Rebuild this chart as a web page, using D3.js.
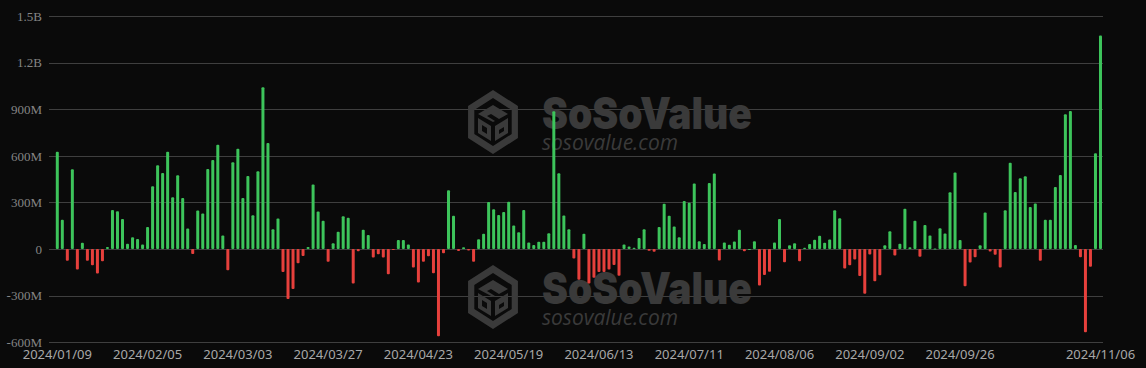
<!DOCTYPE html>
<html>
<head>
<meta charset="utf-8">
<script src="https://cdn.jsdelivr.net/npm/d3@7"></script>
<style>
  html, body { margin: 0; padding: 0; background: #0a0a0a; }
  svg { display: block; }
</style>
</head>
<body>
<svg id="flowChart" width="1146" height="368"></svg>
<script>
(() => {

    // daily net flow, in millions of USD (one entry per trading day)
    const netFlow = [
        626, 188, -75, 514, -132, 41, -75, -104, -158, -78,
        13, 252, 244, 194, 35, 76, 65, 30, 142, 404,
        540, 490, 626, 334, 475, 328, 132, -32, 248, 229,
        516, 574, 671, 88, -136, 559, 645, 328, 470, 218,
        501, 1042, 682, 127, 196, -148, -322, -257, -92, -45,
        13, 415, 241, 182, -82, 37, 111, 211, 201, -221,
        -14, 124, 90, -54, -33, -54, -162, -2, 59, 59,
        30, -118, -215, -81, -46, -156, -561, -27, 378, 215,
        -12, 12, -9, -81, 64, 98, 303, 256, 220, 238,
        305, 152, 108, 251, 42, 26, 47, 47, 102, 887,
        488, 216, 128, -60, -197, 99, -221, -185, -148, -148,
        -131, -103, -171, 29, 17, 9, 71, 127, -11, -17,
        142, 291, 214, 145, 76, 309, 298, 422, 51, 33,
        426, 487, -74, 43, 28, 49, 124, -14, 0, 50,
        -234, -167, -146, 43, 193, -85, 24, 38, -78, 9,
        32, 60, 86, 40, 62, 250, 198, -125, -104, -67,
        -173, -287, -35, -207, -168, 24, 114, -41, 35, 259,
        11, 183, -50, 155, 88, 3, 134, 101, 365, 492,
        58, -240, -86, -52, 24, 235, -15, -37, -119, 250,
        555, 367, 455, 468, 270, 293, -75, 188, 188, 399,
        477, 868, 889, 26, -52, -535, -114, 617, 1375
    ];
    const dayIndex = netFlow.map((_, i) => i);

    const xTickIndex = [0, 18, 36, 54, 72, 90, 108, 126, 144, 162, 180, 208];
    const xTickLabels = ["2024/01/09", "2024/02/05", "2024/03/03", "2024/03/27",
        "2024/04/23", "2024/05/19", "2024/06/13", "2024/07/11", "2024/08/06",
        "2024/09/02", "2024/09/26", "2024/11/06"];

    const yTickValues = [-600, -300, 0, 300, 600, 900, 1200, 1500];
    const yTickLabels = ["-600M", "-300M", "0", "300M", "600M", "900M", "1.2B", "1.5B"];

    const svg = d3.select("svg#flowChart");

    const gridLeft = 49;
    const plotRight = 1103;

    const x = d3.scaleBand()
        .domain(dayIndex)
        .range([54.8, plotRight]);

    const y = d3.scaleLinear()
        .domain([-600, 1500])
        .range([342.3, 16]);

    // grid lines
    svg.append("g")
        .selectAll("line")
        .data(yTickValues)
        .enter().append("line")
        .attr("x1", gridLeft)
        .attr("x2", plotRight)
        .attr("y1", d => Math.round(y(d)) + 0.5)
        .attr("y2", d => Math.round(y(d)) + 0.5)
        .style("stroke", "#3f3f3f")
        .style("stroke-width", 1);

    // y labels
    const yAxis = svg.append("g")
        .attr("transform", "translate(42,0)")
        .call(d3.axisLeft(y)
            .tickValues(yTickValues)
            .tickSize(0)
            .tickPadding(0)
            .tickFormat((d, i) => yTickLabels[i]));
    yAxis.select(".domain").remove();
    yAxis.selectAll("text")
        .style("font-family", "'Liberation Serif', serif")
        .style("font-size", "13px")
        .style("fill", "#858585");

    // watermark
    const marks = svg.append("g").style("fill", "#3a3a3a");
    [0, 175].forEach(dy => {
        const wm = marks.append("g").attr("transform", `translate(0,${dy})`);
        const cx = 493, cy = 122;
        const hex = r => d3.range(6).map(k => {
            const a = Math.PI / 3 * k - Math.PI / 2;
            return [cx + r * Math.cos(a) * 0.9, cy + r * Math.sin(a)];
        });
        const ring = "M" + hex(32).join("L") + "Z M" + hex(24).reverse().join("L") + "Z";
        wm.append("path").attr("d", ring).attr("fill-rule", "evenodd");
        // cube with S cut
        wm.append("path").attr("d",
            `M${cx - 15},${cy - 8} L${cx},${cy - 17} L${cx + 15},${cy - 8} L${cx + 6},${cy - 3}
             L${cx - 2},${cy - 8} L${cx - 6},${cy - 6} L${cx + 2},${cy - 1} L${cx},${cy} Z`);
        wm.append("path").attr("d",
            `M${cx - 15},${cy - 4} L${cx - 2},${cy + 4} L${cx - 2},${cy + 19} L${cx - 15},${cy + 11} Z
             M${cx - 11},${cy + 3} L${cx - 11},${cy + 9} L${cx - 6},${cy + 12} L${cx - 6},${cy + 6} Z`)
            .attr("fill-rule", "evenodd");
        wm.append("path").attr("d",
            `M${cx + 2},${cy + 4} L${cx + 15},${cy - 4} L${cx + 15},${cy + 11} L${cx + 2},${cy + 19} Z
             M${cx + 6},${cy + 8} L${cx + 11},${cy + 5} L${cx + 11},${cy + 9} L${cx + 6},${cy + 12} Z`)
            .attr("fill-rule", "evenodd");
        wm.append("text")
            .attr("x", 542).attr("y", 129)
            .attr("textLength", 210).attr("lengthAdjust", "spacingAndGlyphs")
            .style("font-family", "Inter, sans-serif")
            .style("font-weight", 900)
            .style("font-size", "44px")
            .text("SoSoValue");
        wm.append("text")
            .attr("x", 542).attr("y", 150)
            .attr("textLength", 136).attr("lengthAdjust", "spacingAndGlyphs")
            .style("font-family", "'Open Sans', sans-serif")
            .style("font-style", "italic")
            .style("font-size", "21px")
            .text("sosovalue.com");
    });

    // bars
    const barW = 3;
    svg.append("g")
        .selectAll("rect")
        .data(dayIndex)
        .enter().append("rect")
        .attr("x", i => x(i) + x.bandwidth() / 2 - barW / 2)
        .attr("y", i => y(Math.max(0, netFlow[i])))
        .attr("width", barW)
        .attr("height", i => Math.max(1, Math.abs(y(netFlow[i]) - y(0))))
        .attr("rx", 1)
        .style("fill", i => netFlow[i] >= 0 ? "#3dc45b" : "#e6403c");

    // x labels
    const xAxis = svg.append("g")
        .attr("transform", "translate(0,343)")
        .call(d3.axisBottom(x)
            .tickValues(xTickIndex)
            .tickSize(0)
            .tickPadding(7)
            .tickFormat(i => xTickLabels[xTickIndex.indexOf(i)]));
    xAxis.select(".domain").remove();
    xAxis.selectAll("text")
        .style("font-family", "'Noto Sans', sans-serif")
        .style("font-size", "13px")
        .style("fill", "#a8a8a8");

})();
</script>
</body>
</html>
